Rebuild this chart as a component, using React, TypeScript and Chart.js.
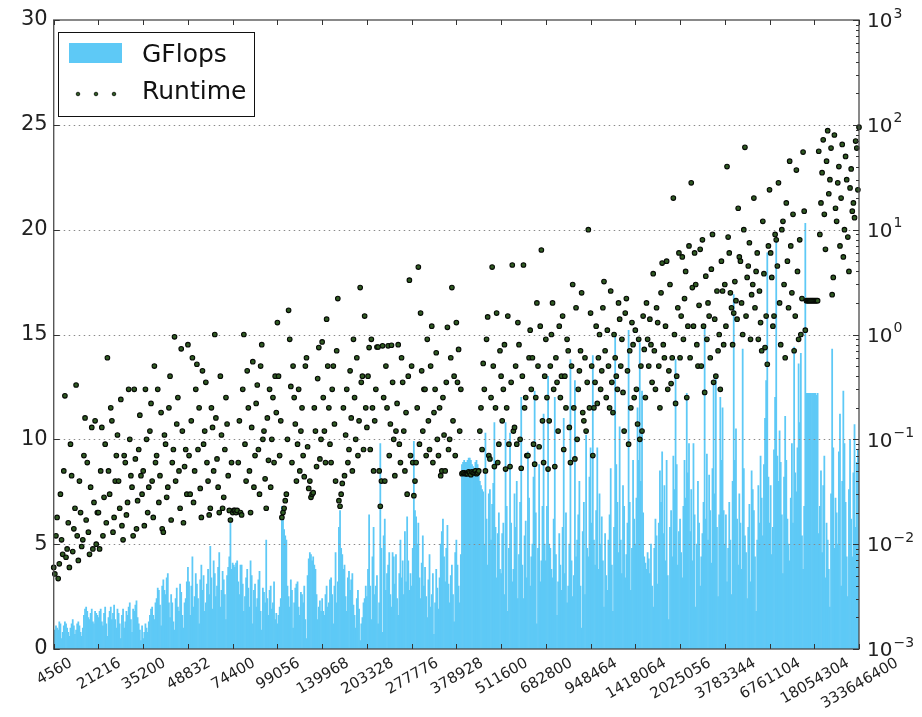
import { useEffect, useRef } from 'react';
import { Chart, registerables } from 'chart.js';

Chart.register(...registerables);

// Problem sizes printed under every 40th bar
const TICK_LABELS = [
  '4560', '21216', '35200', '48832', '74400', '99056', '139968', '203328', '277776',
  '378928', '511600', '682800', '948464', '1418064', '2025056', '3783344', '6761104',
  '18054304', '333646400',
];
const LABEL_EVERY = 40;

// Achieved GFlops per problem (left axis), one row per labelled interval
const GFLOPS = [
  0.7, 0.9, 1.1, 1.0, 0.9, 1.3, 1.2, 0.5, 0.8, 1.1, 1.3, 1.2, 1.0, 0.8, 0.6, 1.0, 1.2, 1.4, 1.1, 0.7, 0.9, 1.2, 1.3, 1.1, 0.8, 0.6, 1.0, 1.6, 1.9, 2.0, 1.8, 1.5, 1.4, 1.7, 1.9, 1.3, 1.2, 1.8, 1.7, 1.6,
  1.5, 1.8, 1.9, 1.3, 1.1, 1.7, 2.0, 1.2, 0.6, 1.5, 1.8, 2.0, 1.4, 1.7, 2.1, 1.4, 1.0, 1.9, 1.7, 1.2, 0.5, 1.6, 1.9, 1.0, 1.3, 1.8, 1.6, 2.0, 2.2, 1.4, 0.8, 1.9, 1.8, 2.1, 2.3, 1.5, 1.2, 0.9, 0.4, 1.1,
  0.5, 0.8, 1.2, 1.0, 0.8, 1.3, 1.6, 1.9, 2.0, 1.6, 1.4, 2.2, 2.4, 2.9, 2.8, 2.1, 1.1, 3.0, 3.3, 2.8, 2.6, 3.4, 3.6, 2.2, 1.5, 2.6, 2.2, 1.3, 0.9, 2.4, 2.9, 2.0, 1.8, 3.1, 2.7, 1.6, 1.0, 2.2, 2.4, 3.2,
  3.9, 3.2, 1.6, 3.0, 4.4, 2.0, 2.5, 3.6, 3.1, 2.4, 1.2, 3.3, 4.0, 2.8, 3.5, 1.8, 2.2, 3.1, 3.8, 2.6, 4.9, 3.4, 1.9, 4.2, 3.6, 2.5, 3.0, 3.9, 4.6, 2.0, 2.8, 3.7, 3.3, 2.6, 1.4, 3.5, 3.9, 4.4, 6.2, 3.8,
  4.1, 4.0, 3.9, 4.1, 4.2, 3.2, 2.6, 4.0, 4.0, 3.1, 1.8, 2.5, 3.4, 3.8, 2.9, 2.0, 4.2, 3.5, 1.2, 2.8, 3.1, 2.0, 2.4, 3.3, 3.7, 1.8, 0.9, 2.9, 2.7, 2.2, 5.2, 2.4, 1.6, 2.8, 3.0, 1.9, 2.2, 3.2, 1.4, 1.7,
  1.2, 1.6, 2.0, 2.4, 6.8, 6.2, 5.7, 5.4, 5.2, 3.0, 2.5, 2.0, 3.3, 2.8, 1.0, 2.2, 2.9, 3.1, 3.2, 2.0, 1.6, 2.7, 2.6, 2.2, 3.0, 1.4, 0.5, 3.5, 4.3, 4.6, 4.5, 4.2, 4.4, 4.0, 3.8, 2.6, 1.4, 2.0, 2.3, 1.8,
  2.4, 1.8, 1.6, 2.6, 3.0, 2.0, 2.2, 3.3, 3.4, 2.6, 1.2, 3.0, 4.6, 2.2, 3.2, 5.8, 6.6, 4.8, 4.5, 3.8, 4.0, 2.5, 1.8, 3.4, 3.7, 2.8, 3.3, 3.6, 2.1, 1.6, 1.0, 2.4, 2.8, 1.9, 0.4, 1.2, 1.5, 2.2, 2.4, 3.0,
  2.5, 3.8, 6.4, 3.0, 1.4, 4.4, 5.8, 2.6, 3.0, 3.5, 1.2, 2.2, 9.8, 4.8, 0.8, 5.4, 6.2, 2.8, 3.6, 4.0, 4.6, 2.6, 2.0, 4.6, 4.4, 3.1, 4.5, 2.4, 1.6, 3.6, 5.2, 3.4, 4.2, 2.6, 5.6, 3.2, 6.3, 4.2, 2.8, 3.6,
  3.0, 4.8, 9.9, 6.6, 6.3, 5.0, 6.0, 3.4, 2.4, 4.1, 5.4, 3.0, 3.9, 2.5, 1.5, 3.3, 4.5, 2.0, 2.6, 3.6, 0.7, 2.2, 3.8, 2.9, 1.9, 3.4, 5.0, 5.6, 6.2, 4.4, 3.2, 4.8, 5.9, 3.1, 2.2, 3.5, 4.0, 2.6, 1.3, 4.6,
  5.2, 4.0, 3.0, 2.2, 4.5, 8.8, 8.9, 9.0, 8.9, 8.9, 9.0, 9.1, 9.1, 9.0, 8.8, 8.7, 8.6, 8.9, 9.0, 8.8, 8.4, 8.0, 7.8, 7.6, 7.5, 5.0, 10.3, 6.2, 4.0, 7.4, 7.6, 5.2, 6.9, 7.9, 10.8, 5.8, 3.4, 5.5, 6.5, 3.8,
  3.6, 5.5, 6.0, 2.6, 10.8, 6.8, 1.8, 4.8, 10.3, 6.0, 3.2, 3.8, 7.4, 5.8, 8.0, 2.4, 4.5, 7.0, 12.0, 4.0, 2.4, 5.4, 6.1, 3.4, 9.4, 7.2, 3.0, 4.4, 5.0, 8.2, 12.3, 6.5, 1.2, 4.8, 8.8, 3.2, 4.2, 6.8, 11.2, 5.0,
  4.2, 6.8, 13.0, 5.0, 4.8, 3.8, 3.4, 6.2, 12.0, 4.5, 1.6, 3.2, 5.5, 4.0, 2.8, 5.8, 11.0, 3.6, 6.5, 2.2, 3.0, 5.0, 13.8, 4.2, 2.5, 3.5, 12.8, 4.4, 5.2, 6.4, 8.0, 3.0, 1.0, 5.6, 7.0, 2.6, 10.2, 4.8, 4.4, 8.2,
  9.6, 6.0, 14.0, 5.2, 4.0, 6.6, 9.6, 3.8, 7.4, 5.0, 6.3, 4.2, 2.0, 5.5, 3.5, 2.8, 5.2, 6.4, 8.6, 4.0, 1.8, 5.8, 15.0, 8.8, 7.0, 4.6, 10.6, 5.2, 3.6, 7.8, 6.8, 3.4, 4.5, 6.0, 15.2, 7.0, 2.8, 4.8, 9.0, 6.2,
  5.0, 7.2, 11.5, 9.0, 14.6, 8.0, 12.3, 6.5, 4.4, 4.1, 3.8, 4.6, 4.3, 3.6, 5.0, 3.0, 2.0, 4.8, 6.2, 5.4, 3.1, 6.0, 8.5, 7.0, 9.4, 5.5, 7.8, 4.2, 9.0, 3.5, 1.4, 5.8, 6.6, 4.4, 9.2, 7.6, 13.8, 8.8, 4.0, 5.6,
  6.2, 4.6, 3.4, 6.8, 9.0, 7.2, 12.2, 8.4, 9.8, 5.6, 7.6, 4.2, 9.8, 6.4, 2.0, 5.0, 8.0, 6.0, 3.0, 4.4, 5.5, 7.0, 15.4, 6.2, 9.3, 5.2, 8.3, 6.6, 4.1, 8.6, 12.7, 7.4, 12.9, 5.8, 2.5, 6.4, 12.0, 9.0, 11.5, 6.6,
  5.0, 6.4, 3.2, 4.8, 7.0, 5.2, 2.6, 8.0, 16.9, 9.0, 10.5, 6.2, 4.0, 7.4, 6.0, 3.8, 14.3, 8.6, 5.4, 4.6, 2.4, 5.8, 6.9, 3.2, 8.5, 7.6, 6.6, 4.4, 1.8, 5.2, 7.8, 6.0, 9.2, 7.2, 5.4, 8.8, 11.0, 12.8, 18.9, 8.2,
  6.0, 7.8, 4.5, 5.8, 9.5, 12.0, 19.4, 9.2, 8.0, 10.4, 8.9, 6.4, 3.6, 8.2, 11.1, 9.0, 6.2, 5.0, 4.2, 7.2, 9.8, 6.0, 14.4, 8.4, 7.5, 9.6, 13.6, 10.8, 14.1, 5.4, 3.8, 6.8, 20.3, 12.2, 12.2, 12.2, 12.2, 12.2, 12.2, 12.2,
  12.2, 12.2, 12.1, 12.2, 5.5, 6.8, 8.5, 4.6, 7.8, 9.2, 3.4, 6.0, 5.2, 3.8, 2.0, 7.4, 14.3, 9.6, 4.8, 7.2, 6.5, 5.0, 9.4, 11.2, 3.0, 8.0, 12.3, 9.8, 7.0, 4.4, 2.5, 7.6, 10.0, 6.2, 4.4, 8.4, 10.7, 5.8, 8.9, 9.5,
  9.1,
];

// Runtime in seconds per problem (right, logarithmic axis)
const RUNTIME = [
  0.006, 0.0052, 0.012, 0.018, 0.0047, 0.0065, 0.03, 0.011, 0.008, 0.05, 0.26, 0.0075, 0.009, 0.016, 0.006, 0.09, 0.045, 0.0085, 0.014, 0.022, 0.33, 0.012, 0.007, 0.04, 0.02, 0.0095, 0.011, 0.07, 0.16, 0.017, 0.06, 0.013, 0.008, 0.035, 0.13, 0.009, 0.025, 0.15, 0.01, 0.02,
  0.02, 0.009, 0.05, 0.13, 0.012, 0.028, 0.09, 0.016, 0.6, 0.05, 0.03, 0.2, 0.15, 0.013, 0.018, 0.04, 0.07, 0.11, 0.04, 0.022, 0.24, 0.015, 0.011, 0.07, 0.06, 0.019, 0.025, 0.3, 0.1, 0.045, 0.035, 0.012, 0.3, 0.065, 0.014, 0.026, 0.08, 0.17, 0.045, 0.03,
  0.05, 0.015, 0.3, 0.1, 0.02, 0.035, 0.12, 0.22, 0.04, 0.018, 0.5, 0.06, 0.07, 0.3, 0.025, 0.045, 0.18, 0.014, 0.013, 0.11, 0.09, 0.028, 0.035, 0.2, 0.4, 0.017, 0.06, 0.08, 0.95, 0.04, 0.14, 0.25, 0.05, 0.022, 0.73, 0.12, 0.016, 0.055, 0.08, 0.03,
  0.8, 0.07, 0.03, 0.15, 0.6, 0.025, 0.05, 0.3, 0.52, 0.08, 0.2, 0.034, 0.018, 0.45, 0.09, 0.12, 0.35, 0.06, 0.04, 0.019, 0.022, 0.2, 0.13, 0.05, 1.0, 0.16, 0.065, 0.035, 0.02, 0.4, 0.11, 0.022, 0.028, 0.08, 0.25, 0.14, 0.045, 0.021, 0.017, 0.06,
  0.02, 0.021, 0.021, 0.02, 0.021, 0.06, 0.15, 0.02, 0.019, 0.3, 1.0, 0.09, 0.04, 0.45, 0.2, 0.05, 0.02, 0.13, 0.55, 0.035, 0.07, 0.22, 0.33, 0.08, 0.03, 0.5, 0.8, 0.1, 0.12, 0.042, 0.022, 0.16, 0.063, 0.3, 0.035, 0.1, 0.25, 0.06, 0.4, 0.18,
  1.3, 0.4, 0.07, 0.15, 0.018, 0.02, 0.022, 0.026, 0.03, 0.1, 1.7, 0.9, 0.32, 0.06, 0.5, 0.25, 0.14, 0.04, 0.09, 0.3, 0.05, 0.12, 0.2, 0.07, 0.044, 0.5, 0.6, 0.085, 0.034, 0.04, 0.028, 0.03, 0.031, 0.2, 0.12, 0.055, 0.38, 0.75, 0.065, 0.1,
  0.85, 0.25, 0.12, 0.06, 1.4, 0.5, 0.2, 0.09, 0.06, 0.3, 0.5, 0.14, 0.04, 0.7, 2.2, 0.026, 0.023, 0.03, 0.038, 0.2, 0.045, 0.11, 0.3, 0.06, 0.08, 0.45, 0.16, 0.05, 0.9, 0.25, 0.1, 0.6, 0.07, 0.15, 2.8, 0.35, 0.4, 0.08, 1.5, 0.2,
  0.13, 0.4, 0.75, 0.08, 0.9, 0.2, 0.05, 0.15, 0.3, 0.76, 0.76, 0.05, 0.023, 0.04, 0.78, 0.25, 0.04, 0.5, 0.2, 0.78, 0.07, 0.14, 0.79, 0.35, 0.1, 0.045, 0.12, 0.22, 0.8, 0.09, 0.06, 0.6, 0.35, 0.12, 0.05, 0.18, 0.03, 0.4, 3.3, 0.07,
  0.5, 0.06, 0.029, 0.04, 0.06, 0.2, 4.4, 0.09, 1.6, 0.45, 0.12, 0.3, 0.3, 0.07, 0.9, 0.15, 0.08, 0.5, 1.2, 0.06, 0.18, 0.3, 0.67, 0.1, 0.07, 0.2, 0.045, 0.05, 0.25, 0.11, 0.05, 0.35, 1.17, 0.08, 0.1, 0.6, 2.8, 0.15, 0.4, 0.07,
  1.3, 0.35, 0.72, 0.12, 0.3, 0.047, 0.048, 0.048, 0.047, 0.047, 0.047, 0.049, 0.048, 0.046, 0.049, 0.048, 0.048, 0.05, 0.047, 0.048, 0.05, 0.12, 0.2, 0.08, 0.53, 0.3, 0.05, 0.9, 1.47, 0.07, 0.065, 0.25, 4.4, 0.5, 0.055, 0.2, 1.6, 0.06, 0.09, 0.7,
  0.4, 0.15, 0.3, 0.8, 0.052, 0.2, 1.5, 0.09, 0.055, 0.35, 4.6, 0.12, 0.13, 0.5, 0.09, 1.3, 0.8, 0.1, 0.053, 0.4, 4.6, 0.2, 0.25, 0.07, 0.07, 0.6, 1.1, 0.3, 0.6, 0.09, 0.058, 0.25, 2.0, 0.5, 0.085, 1.2, 6.4, 0.15, 0.06, 0.4,
  0.9, 0.25, 0.052, 0.15, 0.5, 1.0, 2.0, 0.3, 0.055, 0.6, 0.35, 0.12, 1.2, 0.25, 0.4, 1.5, 0.08, 0.4, 0.2, 0.9, 0.7, 0.13, 0.06, 0.5, 3.0, 0.2, 0.065, 1.8, 0.1, 0.3, 0.45, 0.7, 2.5, 0.18, 0.15, 0.6, 0.12, 0.35, 10, 0.2,
  1.6, 0.5, 0.07, 0.2, 0.35, 1.2, 0.22, 0.6, 1.0, 0.3, 0.45, 1.8, 3.2, 0.7, 0.25, 1.1, 0.5, 0.2, 2.6, 0.35, 0.18, 1.0, 0.6, 0.4, 0.3, 2.0, 1.4, 0.5, 0.9, 0.28, 0.12, 1.6, 2.2, 0.45, 0.09, 0.7, 0.2, 1.3, 0.8, 0.25,
  1.1, 0.3, 0.14, 0.9, 0.1, 0.5, 0.12, 1.5, 0.72, 0.25, 2.0, 0.9, 0.5, 1.4, 0.8, 0.35, 3.8, 0.7, 0.3, 1.8, 1.3, 0.5, 0.2, 2.5, 4.8, 0.8, 0.6, 1.2, 5.0, 0.3, 0.45, 3.0, 0.34, 0.6, 20, 1.0, 0.22, 0.4, 1.8, 6.0,
  0.6, 1.5, 5.5, 0.9, 2.2, 4.0, 0.25, 1.2, 7.0, 0.6, 28, 2.8, 1.2, 6.0, 3.0, 0.8, 0.5, 1.9, 6.5, 0.5, 8.0, 1.2, 0.28, 3.6, 0.9, 2.0, 1.5, 0.6, 4.2, 9.0, 0.35, 1.4, 0.4, 2.6, 0.7, 1.0, 0.3, 5.0, 2.6, 0.8,
  3.0, 1.2, 40, 8.5, 6.0, 2.5, 1.8, 0.8, 1.6, 3.2, 2.1, 1.4, 16, 5.5, 5.0, 2.0, 1.0, 10, 61, 1.5, 3.5, 4.5, 7.5, 0.9, 2.4, 3.0, 20, 1.8, 4.0, 6.0, 0.9, 2.6, 1.3, 0.7, 12, 3.8, 0.75, 1.5, 0.52, 7.0,
  24, 6.0, 3.5, 1.2, 1.5, 9.0, 8.0, 4.5, 28, 2.0, 0.8, 10, 12, 3.0, 0.6, 18, 5.0, 1.8, 45, 7.0, 2.5, 14, 0.7, 1.5, 37, 4.0, 0.9, 8.0, 1.0, 2.2, 55, 15, 1.1, 2.1, 2.1, 2.1, 2.1, 2.1, 2.1, 2.1,
  2.1, 2.1, 2.1, 2.1, 56, 9.0, 18, 35, 72, 14, 6.5, 45, 88, 22, 30, 60, 2.4, 3.5, 80, 16, 12, 28, 40, 7.0, 20, 65, 5.5, 10, 50, 30, 8.5, 4.0, 25, 38, 15, 18, 13, 70, 60, 24,
  95,
];

const LEFT_TICKS = [0, 5, 10, 15, 20, 25, 30];
const GRID_VALUES = [5, 10, 15, 20, 25];
const RIGHT_EXPONENTS = [-3, -2, -1, 0, 1, 2, 3];

const FONT = '"DejaVu Sans", "Liberation Sans", sans-serif';
const BAR_COLOR = '#5ec9f6';
const POINT_FILL = '#2f5a22';
const POINT_EDGE = '#060a05';

const decorations = {
  id: 'decorations',
  // dotted horizontal grid: above the bars, below the runtime points
  beforeDatasetDraw(chart: any, args: any) {
    if (args.index !== 1) return;
    const { ctx, chartArea: a, scales } = chart;
    ctx.save();
    ctx.strokeStyle = '#8a8a8a';
    ctx.lineWidth = 1;
    ctx.setLineDash([1.5, 3.5]);
    for (const v of GRID_VALUES) {
      const py = Math.round(scales.y.getPixelForValue(v)) + 0.5;
      ctx.beginPath();
      ctx.moveTo(a.left, py);
      ctx.lineTo(a.right, py);
      ctx.stroke();
    }
    ctx.restore();
  },
  afterDraw(chart: any) {
    const { ctx, chartArea: a, scales } = chart;
    const x = scales.x;
    const y = scales.y;
    const y2 = scales.y2;
    ctx.save();

    // axes frame
    ctx.strokeStyle = '#4a4a4a';
    ctx.lineWidth = 1.3;
    ctx.strokeRect(a.left, a.top, a.right - a.left, a.bottom - a.top);

    // inward tick marks
    ctx.strokeStyle = '#333';
    ctx.lineWidth = 1;
    ctx.beginPath();
    for (const v of LEFT_TICKS) {
      const py = Math.round(y.getPixelForValue(v)) + 0.5;
      ctx.moveTo(a.left, py);
      ctx.lineTo(a.left + 6, py);
    }
    for (const e of RIGHT_EXPONENTS) {
      const py = Math.round(y2.getPixelForValue(Math.pow(10, e))) + 0.5;
      ctx.moveTo(a.right, py);
      ctx.lineTo(a.right - 6, py);
      if (e < 3) {
        for (let m = 2; m <= 9; m++) {
          const pm = Math.round(y2.getPixelForValue(m * Math.pow(10, e))) + 0.5;
          ctx.moveTo(a.right, pm);
          ctx.lineTo(a.right - 3, pm);
        }
      }
    }
    TICK_LABELS.forEach((_, k) => {
      const px = Math.round(x.getPixelForValue(k * LABEL_EVERY)) + 0.5;
      ctx.moveTo(px, a.top);
      ctx.lineTo(px, a.top + 5);
      ctx.moveTo(px, a.bottom);
      ctx.lineTo(px, a.bottom - 5);
    });
    ctx.stroke();

    // rotated problem-size labels, centred under their ticks
    ctx.fillStyle = '#222';
    ctx.font = `15px ${FONT}`;
    ctx.textAlign = 'center';
    ctx.textBaseline = 'alphabetic';
    const ang = Math.PI / 6;
    const digitH = 11;
    TICK_LABELS.forEach((label, k) => {
      const px = x.getPixelForValue(k * LABEL_EVERY);
      const w = ctx.measureText(label).width;
      const boxH = w * Math.sin(ang) + digitH * Math.cos(ang);
      ctx.save();
      ctx.translate(px, a.bottom + 7 + boxH / 2);
      ctx.rotate(-ang);
      ctx.fillText(label, 0, digitH / 2);
      ctx.restore();
    });

    // right axis: powers of ten
    ctx.textAlign = 'left';
    for (const e of RIGHT_EXPONENTS) {
      const py = y2.getPixelForValue(Math.pow(10, e));
      ctx.font = `20px ${FONT}`;
      ctx.fillText('10', a.right + 8, py + 7.3);
      const w10 = ctx.measureText('10').width;
      ctx.font = `14px ${FONT}`;
      ctx.fillText(e < 0 ? `\u2212${-e}` : String(e), a.right + 9 + w10, py - 2.5);
    }

    // legend box
    const lx = 58.5;
    const ly = 32.5;
    ctx.fillStyle = '#fff';
    ctx.fillRect(lx, ly, 196, 84);
    ctx.strokeStyle = '#111';
    ctx.lineWidth = 1;
    ctx.strokeRect(lx, ly, 196, 84);
    ctx.fillStyle = BAR_COLOR;
    ctx.fillRect(69, 43, 53, 20);
    for (const dx of [78, 96, 114]) {
      ctx.beginPath();
      ctx.arc(dx, 94, 1.8, 0, Math.PI * 2);
      ctx.fillStyle = POINT_FILL;
      ctx.fill();
      ctx.strokeStyle = POINT_EDGE;
      ctx.lineWidth = 0.8;
      ctx.stroke();
    }
    ctx.fillStyle = '#111';
    ctx.font = `25px ${FONT}`;
    ctx.fillText('GFlops', 142, 62);
    ctx.fillText('Runtime', 142, 99);

    ctx.restore();
  },
};

export default function App() {
  const canvasRef = useRef<HTMLCanvasElement | null>(null);

  useEffect(() => {
    const canvas = canvasRef.current;
    if (!canvas) return;
    const chart = new Chart(canvas, {
      type: 'bar',
      data: {
        labels: GFLOPS.map((_, i) => String(i)),
        datasets: [
          {
            type: 'bar',
            label: 'GFlops',
            data: GFLOPS,
            yAxisID: 'y',
            backgroundColor: BAR_COLOR,
            borderWidth: 0,
            barPercentage: 1,
            categoryPercentage: 1,
            order: 2,
          },
          {
            type: 'line',
            label: 'Runtime',
            data: RUNTIME,
            yAxisID: 'y2',
            showLine: false,
            pointStyle: 'circle',
            pointRadius: 2.3,
            pointHoverRadius: 2.3,
            pointBackgroundColor: POINT_FILL,
            pointBorderColor: POINT_EDGE,
            pointBorderWidth: 1.1,
            order: 1,
          },
        ],
      },
      options: {
        animation: false,
        responsive: true,
        maintainAspectRatio: false,
        events: [],
        layout: { padding: { left: 15, right: 63, top: 20, bottom: 68 } },
        plugins: {
          legend: { display: false },
          tooltip: { enabled: false },
        },
        scales: {
          x: { type: 'category', offset: false, display: false },
          y: {
            position: 'left',
            min: 0,
            max: 30,
            ticks: { stepSize: 5, color: '#222', padding: 6, font: { family: FONT, size: 21 } },
            grid: { display: false, drawTicks: false },
            border: { display: false },
          },
          y2: { type: 'logarithmic', position: 'right', min: 1e-3, max: 1e3, display: false },
        },
      },
      plugins: [decorations],
    });
    return () => chart.destroy();
  }, []);

  return (
    <div style={{ position: 'fixed', left: 0, top: 0, width: 922, height: 717, background: '#fff' }}>
      <canvas ref={canvasRef} />
    </div>
  );
}
